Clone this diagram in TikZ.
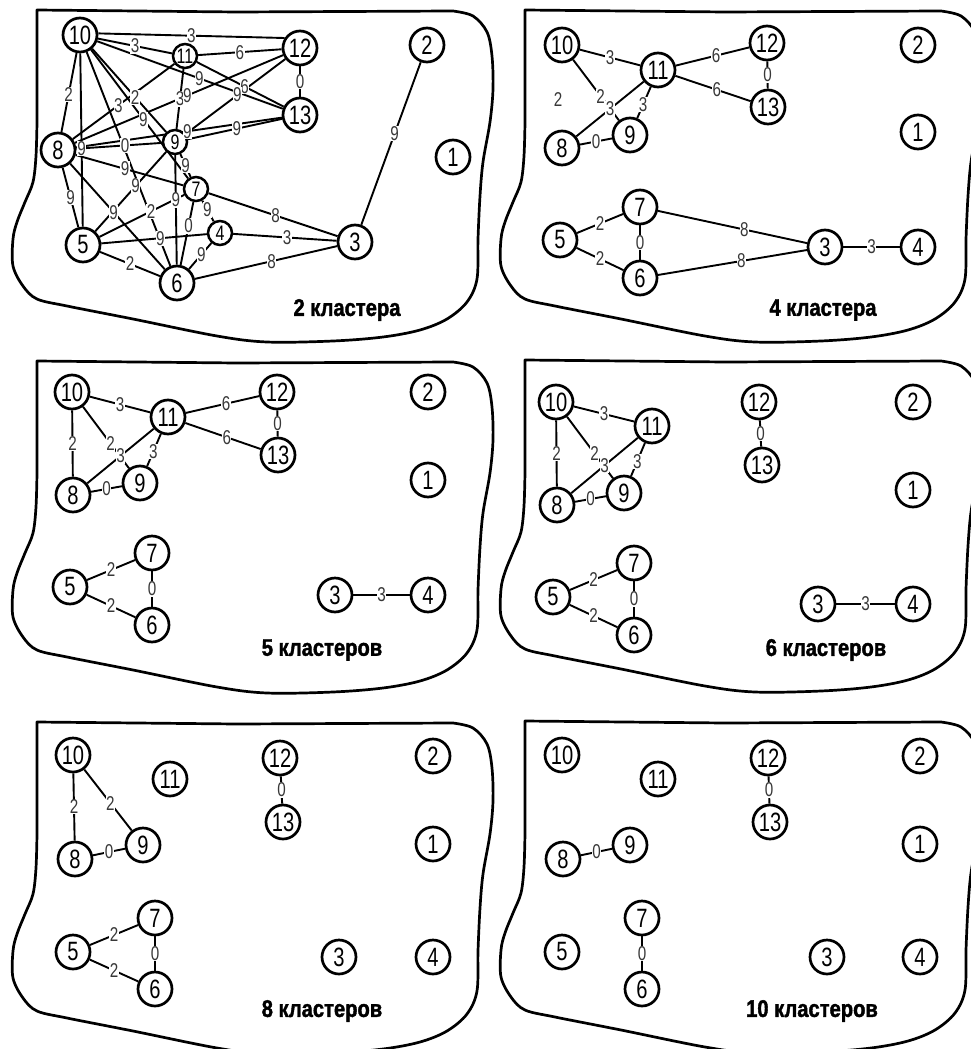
\documentclass[tikz,border=0pt]{standalone}
\usepackage{fontspec}
\newfontfamily\condfont{Liberation Sans}[FakeStretch=0.76]
\newfontfamily\boldcond{Liberation Sans}[FakeStretch=0.84, BoldFeatures={FakeBold=1.6}]
\pgfdeclarelayer{bg}
\pgfsetlayers{bg,main}
\tikzset{
  big/.style={circle, draw, fill=white, line width=2.7pt, minimum size=34pt, inner sep=0pt,
    font=\condfont\fontsize{26.5}{26.5}\selectfont},
  small/.style={circle, draw, fill=white, line width=2.5pt, minimum size=24pt, inner sep=0pt,
    font=\condfont\fontsize{21}{21}\selectfont},
  edge/.style={line width=1.9pt},
  wlab/.style={fill=white, inner sep=0.5pt, text=black!78,
    font=\condfont\fontsize{20}{20}\selectfont},
  titletext/.style={font=\boldcond\bfseries\fontsize{24}{24}\selectfont},
  outline/.style={line width=2.7pt, line join=round}
}
\newcommand{\cedge}[4]{%
  \begin{pgfonlayer}{bg}\draw[edge] (#1) -- (#2);\end{pgfonlayer}%
  \path (#1) -- node[wlab,pos=#4]{#3} (#2);}
\newcommand{\plainedge}[2]{%
  \begin{pgfonlayer}{bg}\draw[edge] (#1) -- (#2);\end{pgfonlayer}}
\newcommand{\panelblob}[2]{%
  \begin{pgfonlayer}{bg}
  \draw[outline, shift={(#1,#2)}] (0,0) -- (200,2) -- plot[smooth, tension=0.55] coordinates {
    (416,1) (436,6) (450,22) (455,46) (456,79) (453,112) (446,152) (443,186)
    (441,229) (440,269) (430,292) (410,309) (383,320) (346,327) (296,331)
    (230,332) (180,326) (96,309) (30,296) (0,289) (-14,276) (-24,256)
    (-24,229) (-20,212) (-12,192) (-4,172) (-1,146) (0,112)} -- cycle;
  \end{pgfonlayer}}
\begin{document}
\begin{tikzpicture}[x=1pt,y=-1pt]
\useasboundingbox (0,0) rectangle (971,1049);

% ---------------- outlines
\panelblob{37}{10}
\panelblob{525}{10}
\panelblob{37}{361}
\panelblob{525}{360}
\panelblob{37}{722}
\panelblob{525}{721}

% ---------------- panel 1 : 2 clusters
\node[big]   (a10) at (80,35)  {10};
\node[small] (a11) at (185,56) {11};
\node[big]   (a12) at (300,48) {12};
\node[big]   (a13) at (300,115) {13};
\node[big]   (a2)  at (427,45) {2};
\node[big]   (a1)  at (453,157) {1};
\node[big]   (a8)  at (58,150) {8};
\node[small] (a9)  at (175,142) {9};
\node[small] (a7)  at (196,189) {7};
\node[small] (a4)  at (220,233) {4};
\node[big]   (a5)  at (83,245) {5};
\node[big]   (a6)  at (177,283) {6};
\node[big]   (a3)  at (355,242) {3};
\node[titletext] (t1) at (347,310) {2 кластера};

\cedge{a10.5}{a12.147}{3}{0.5}
\cedge{a10}{a11}{3}{0.5}
\cedge{a11}{a12}{6}{0.5}
\cedge{a12}{a13}{0}{0.5}
\cedge{a11}{a13}{6}{0.55}
\cedge{a10}{a13}{9}{0.55}
\cedge{a10}{a8}{2}{0.52}
\cedge{a11}{a8}{3}{0.55}
\cedge{a10}{a9}{2}{0.58}
\cedge{a11}{a9}{3}{0.5}
\cedge{a12}{a8}{9}{0.46}
\cedge{a12}{a9}{9}{0.48}
\cedge{a13}{a8}{9}{0.46}
\cedge{a13}{a9}{9}{0.48}
\cedge{a10}{a7}{9}{0.54}
\plainedge{a10}{a6}
\cedge{a10}{a5}{9}{0.55}
\cedge{a8}{a9}{0}{0.57}
\cedge{a8}{a7}{9}{0.46}
\cedge{a9}{a7}{9}{0.5}
\cedge{a8}{a5}{9}{0.5}
\cedge{a9}{a5}{9}{0.43}
\cedge{a8}{a6}{9}{0.46}
\cedge{a9}{a6}{9}{0.41}
\cedge{a5}{a7}{2}{0.61}
\cedge{a7}{a4}{9}{0.45}
\cedge{a7}{a6}{0}{0.38}
\cedge{a5}{a4}{9}{0.56}
\cedge{a4}{a6}{9}{0.45}
\cedge{a5}{a6}{2}{0.5}
\cedge{a7}{a3}{8}{0.52}
\cedge{a4}{a3}{3}{0.52}
\cedge{a6}{a3}{8}{0.54}
\cedge{a2}{a3}{9}{0.44}

% ---------------- panel 2 : 4 clusters
\node[big] (b10) at (562,45) {10};
\node[big] (b11) at (658,70) {11};
\node[big] (b12) at (767,43) {12};
\node[big] (b13) at (768,107) {13};
\node[big] (b2)  at (918,45) {2};
\node[big] (b1)  at (918,132) {1};
\node[big] (b8)  at (562,148) {8};
\node[big] (b9)  at (630,135) {9};
\node[big] (b7)  at (640,207) {7};
\node[big] (b5)  at (560,240) {5};
\node[big] (b6)  at (640,278) {6};
\node[big] (b3)  at (825,247) {3};
\node[big] (b4)  at (918,247) {4};
\node[wlab] (bstray) at (558,100) {2};
\node[titletext] (t2) at (823,310) {4 кластера};

\cedge{b10}{b11}{3}{0.5}
\cedge{b10}{b9}{2}{0.6}
\cedge{b11}{b8}{3}{0.5}
\cedge{b11}{b9}{3}{0.57}
\cedge{b8}{b9}{0}{0.5}
\cedge{b11}{b12}{6}{0.55}
\cedge{b11}{b13}{6}{0.55}
\cedge{b12}{b13}{0}{0.5}
\cedge{b5}{b7}{2}{0.5}
\cedge{b5}{b6}{2}{0.5}
\cedge{b7}{b6}{0}{0.5}
\cedge{b7}{b3}{8}{0.58}
\cedge{b6}{b3}{8}{0.56}
\cedge{b3}{b4}{3}{0.5}

% ---------------- panel 3 : 5 clusters
\node[big] (c10) at (72,392) {10};
\node[big] (c11) at (168,417) {11};
\node[big] (c12) at (277,392) {12};
\node[big] (c13) at (278,455) {13};
\node[big] (c2)  at (428,392) {2};
\node[big] (c1)  at (428,480) {1};
\node[big] (c8)  at (73,495) {8};
\node[big] (c9)  at (140,483) {9};
\node[big] (c7)  at (152,553) {7};
\node[big] (c5)  at (70,587) {5};
\node[big] (c6)  at (152,625) {6};
\node[big] (c3)  at (335,595) {3};
\node[big] (c4)  at (428,595) {4};
\node[titletext] (t3) at (322,650) {5 кластеров};

\cedge{c10}{c11}{3}{0.5}
\cedge{c10}{c8}{2}{0.5}
\cedge{c10}{c9}{2}{0.6}
\cedge{c11}{c8}{3}{0.5}
\cedge{c11}{c9}{3}{0.55}
\cedge{c8}{c9}{0}{0.5}
\cedge{c11}{c12}{6}{0.55}
\cedge{c11}{c13}{6}{0.55}
\cedge{c12}{c13}{0}{0.5}
\cedge{c5}{c7}{2}{0.5}
\cedge{c5}{c6}{2}{0.5}
\cedge{c7}{c6}{0}{0.5}
\cedge{c3}{c4}{3}{0.5}

% ---------------- panel 4 : 6 clusters
\node[big] (d10) at (556,402) {10};
\node[big] (d11) at (652,426) {11};
\node[big] (d12) at (759,402) {12};
\node[big] (d13) at (762,465) {13};
\node[big] (d2)  at (913,402) {2};
\node[big] (d1)  at (913,490) {1};
\node[big] (d8)  at (557,505) {8};
\node[big] (d9)  at (624,493) {9};
\node[big] (d7)  at (634,563) {7};
\node[big] (d5)  at (553,597) {5};
\node[big] (d6)  at (634,635) {6};
\node[big] (d3)  at (818,604) {3};
\node[big] (d4)  at (913,604) {4};
\node[titletext] (t4) at (826,650) {6 кластеров};

\cedge{d10}{d11}{3}{0.5}
\cedge{d10}{d8}{2}{0.5}
\cedge{d10}{d9}{2}{0.6}
\cedge{d11}{d8}{3}{0.5}
\cedge{d11}{d9}{3}{0.55}
\cedge{d8}{d9}{0}{0.5}
\cedge{d12}{d13}{0}{0.5}
\cedge{d5}{d7}{2}{0.5}
\cedge{d5}{d6}{2}{0.5}
\cedge{d7}{d6}{0}{0.5}
\cedge{d3}{d4}{3}{0.5}

% ---------------- panel 5 : 8 clusters
\node[big] (e10) at (73,755) {10};
\node[big] (e11) at (170,779) {11};
\node[big] (e12) at (280,758) {12};
\node[big] (e13) at (283,822) {13};
\node[big] (e2)  at (433,756) {2};
\node[big] (e1)  at (433,844) {1};
\node[big] (e8)  at (75,859) {8};
\node[big] (e9)  at (143,845) {9};
\node[big] (e7)  at (155,918) {7};
\node[big] (e5)  at (73,952) {5};
\node[big] (e6)  at (155,989) {6};
\node[big] (e3)  at (339,957) {3};
\node[big] (e4)  at (433,957) {4};
\node[titletext] (t5) at (322,1011) {8 кластеров};

\cedge{e10}{e8}{2}{0.5}
\cedge{e10}{e9}{2}{0.55}
\cedge{e8}{e9}{0}{0.5}
\cedge{e12}{e13}{0}{0.5}
\cedge{e5}{e7}{2}{0.5}
\cedge{e5}{e6}{2}{0.5}
\cedge{e7}{e6}{0}{0.5}

% ---------------- panel 6 : 10 clusters
\node[big] (f10) at (562,755) {10};
\node[big] (f11) at (658,779) {11};
\node[big] (f12) at (768,758) {12};
\node[big] (f13) at (770,822) {13};
\node[big] (f2)  at (920,756) {2};
\node[big] (f1)  at (920,844) {1};
\node[big] (f8)  at (563,859) {8};
\node[big] (f9)  at (630,845) {9};
\node[big] (f7)  at (642,918) {7};
\node[big] (f5)  at (562,952) {5};
\node[big] (f6)  at (642,989) {6};
\node[big] (f3)  at (827,957) {3};
\node[big] (f4)  at (920,957) {4};
\node[titletext] (t6) at (812,1011) {10 кластеров};

\cedge{f8}{f9}{0}{0.5}
\cedge{f12}{f13}{0}{0.5}
\cedge{f7}{f6}{0}{0.5}
\end{tikzpicture}
\end{document}
